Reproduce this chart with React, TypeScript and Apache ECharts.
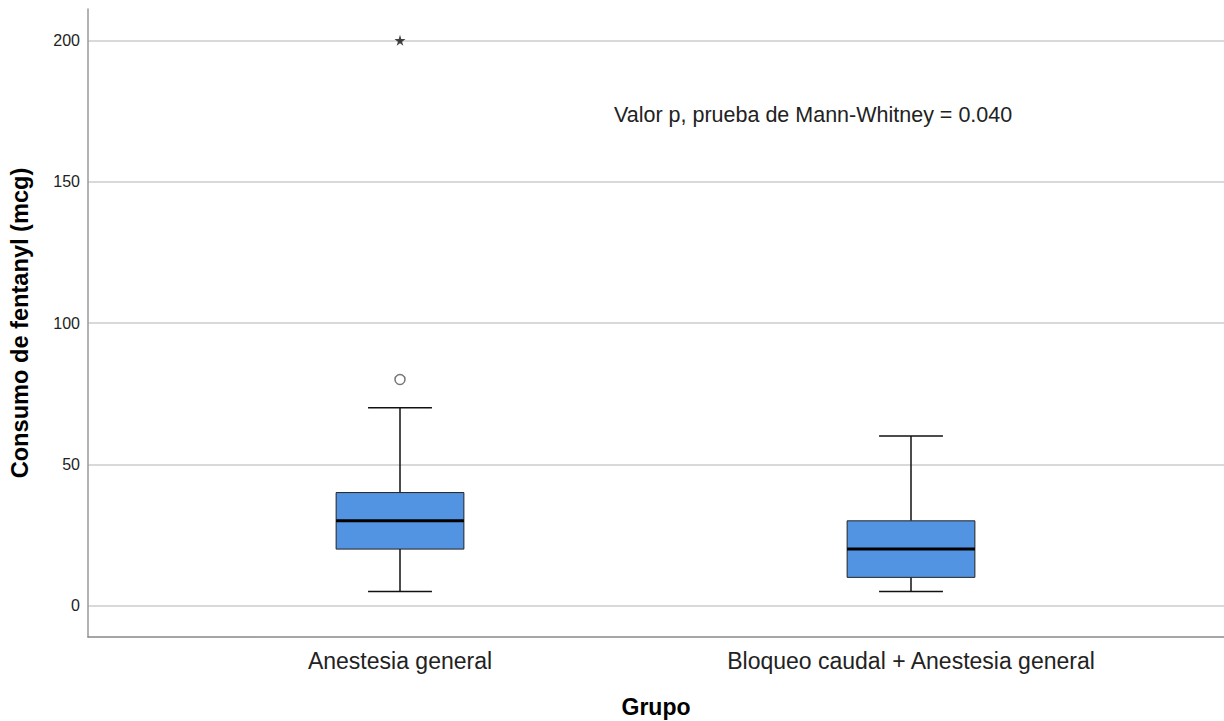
import React, { useEffect, useRef } from "react";
import * as echarts from "echarts";

const categories = ["Anestesia general", "Bloqueo caudal + Anestesia general"];
// [low whisker, Q1, median, Q3, high whisker]
const boxValues = [
  [5, 20, 30, 40, 70],
  [5, 10, 20, 30, 60],
];
const circleOutliers = [[0, 80]];
const extremeOutliers = [[0, 200]];
const pValueText = "Valor p, prueba de Mann-Whitney = 0.040";
const yTitle = "Consumo de fentanyl (mcg)";
const xTitle = "Grupo";

const FONT = "'Liberation Sans', Arial, sans-serif";
const STAR =
  "path://M50,0 L61,35 L98,35 L68,57 L79,91 L50,70 L21,91 L32,57 L2,35 L39,35 Z";

export default function App() {
  const ref = useRef<HTMLDivElement>(null);
  useEffect(() => {
    if (!ref.current) return;
    const chart = echarts.init(ref.current, undefined, { renderer: "svg" });
    const top = 9;
    const bottom = 84;
    const yMin = -11.1;
    const yMax = 211.1;
    chart.setOption({
      animation: false,
      backgroundColor: "#ffffff",
      grid: [
        { left: 88, right: 0, top, bottom, outerBoundsMode: "none", containLabel: false },
        { left: 144.5, right: 57.5, top, bottom, outerBoundsMode: "none", containLabel: false },
      ],
      xAxis: [
        {
          type: "value",
          gridIndex: 0,
          min: 0,
          max: 1,
          axisLabel: { show: false },
          axisTick: { show: false },
          splitLine: { show: false },
          axisLine: { show: true, onZero: false, lineStyle: { color: "#888888", width: 1.5 } },
          name: xTitle,
          nameLocation: "middle",
          nameGap: 58,
          nameTextStyle: { fontFamily: FONT, fontSize: 23, fontWeight: "bold", color: "#000" },
        },
        {
          type: "category",
          gridIndex: 1,
          data: categories,
          boundaryGap: true,
          axisLine: { show: false },
          axisTick: { show: false },
          axisLabel: { fontFamily: FONT, fontSize: 23, color: "#222", margin: 12 },
        },
      ],
      yAxis: [
        {
          type: "value",
          gridIndex: 0,
          min: yMin,
          max: yMax,
          minInterval: 50,
          maxInterval: 50,
          axisLine: { show: true, onZero: false, lineStyle: { color: "#999999", width: 1.5 } },
          axisTick: { show: false },
          axisLabel: {
            fontFamily: FONT,
            fontSize: 16,
            color: "#222",
            margin: 8,
            showMinLabel: false,
            showMaxLabel: false,
          },
          splitLine: {
            show: true,
            showMinLine: false,
            showMaxLine: false,
            lineStyle: { color: "#cccccc", width: 1.5 },
          },
          name: yTitle,
          nameLocation: "middle",
          nameRotate: 90,
          nameGap: 56,
          nameTextStyle: { fontFamily: FONT, fontSize: 23.6, fontWeight: "bold", color: "#000" },
        },
        {
          type: "value",
          gridIndex: 1,
          min: yMin,
          max: yMax,
          show: false,
          splitLine: { show: false },
        },
      ],
      series: [
        {
          type: "custom",
          xAxisIndex: 1,
          yAxisIndex: 1,
          data: boxValues.map((b, i) => [i, ...b]),
          renderItem: (params: any, api: any) => {
            const x = api.value(0);
            const band = api.size([1, 0])[0];
            const boxW = band * 0.25;
            const capW = boxW / 2;
            const pLow = api.coord([x, api.value(1)]);
            const pQ1 = api.coord([x, api.value(2)]);
            const pMed = api.coord([x, api.value(3)]);
            const pQ3 = api.coord([x, api.value(4)]);
            const pHigh = api.coord([x, api.value(5)]);
            const cx = pLow[0];
            const lineStyle = { stroke: "#111", lineWidth: 1.5, fill: null };
            return {
              type: "group",
              children: [
                { type: "line", shape: { x1: cx, y1: pLow[1], x2: cx, y2: pQ1[1] }, style: lineStyle },
                { type: "line", shape: { x1: cx, y1: pQ3[1], x2: cx, y2: pHigh[1] }, style: lineStyle },
                { type: "line", shape: { x1: cx - capW / 2, y1: pLow[1], x2: cx + capW / 2, y2: pLow[1] }, style: lineStyle },
                { type: "line", shape: { x1: cx - capW / 2, y1: pHigh[1], x2: cx + capW / 2, y2: pHigh[1] }, style: lineStyle },
                {
                  type: "rect",
                  shape: { x: cx - boxW / 2, y: pQ3[1], width: boxW, height: pQ1[1] - pQ3[1] },
                  style: { fill: "#5294E2", stroke: "#222", lineWidth: 1 },
                },
                {
                  type: "line",
                  shape: { x1: cx - boxW / 2, y1: pMed[1], x2: cx + boxW / 2, y2: pMed[1] },
                  style: { stroke: "#000", lineWidth: 3 },
                },
              ],
            };
          },
        },
        {
          type: "scatter",
          xAxisIndex: 1,
          yAxisIndex: 1,
          data: circleOutliers,
          symbol: "circle",
          symbolSize: 10,
          itemStyle: { color: "#ffffff", borderColor: "#555", borderWidth: 1.5 },
        },
        {
          type: "scatter",
          xAxisIndex: 1,
          yAxisIndex: 1,
          data: extremeOutliers,
          symbol: STAR,
          symbolSize: 11,
          itemStyle: { color: "#111" },
        },
      ],
      graphic: [
        {
          type: "text",
          left: 614,
          top: 104,
          style: { text: pValueText, fontFamily: FONT, fontSize: 21.5, fill: "#222" },
        },
      ],
    });
    return () => chart.dispose();
  }, []);
  return (
    <div
      ref={ref}
      style={{ position: "absolute", left: 0, top: 0, width: 1224, height: 721 }}
    />
  );
}
